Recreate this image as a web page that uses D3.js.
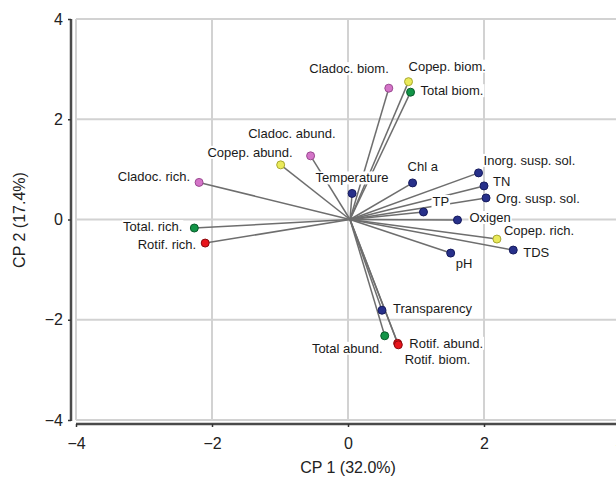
<!DOCTYPE html>
<html><head><meta charset="utf-8">
<script src="https://cdn.jsdelivr.net/npm/d3@7"></script>
<style>
html,body{margin:0;padding:0;background:#fff;}
svg{display:block;font-family:"Liberation Sans",Arial,sans-serif;}
</style></head>
<body>
<svg id="c" width="616" height="485"></svg>
<script>
// ---- data ----
const names = ["Cladoc. biom.","Copep. biom.","Total biom.","Cladoc. abund.","Copep. abund.","Cladoc. rich.","Total. rich.","Rotif. rich.","Temperature","Chl a","Inorg. susp. sol.","TN","Org. susp. sol.","TP","Oxigen","Copep. rich.","TDS","pH","Transparency","Total abund.","Rotif. biom.","Rotif. abund."];
const cp1 = [0.60,0.89,0.92,-0.55,-0.99,-2.19,-2.26,-2.10,0.06,0.95,1.92,2.00,2.03,1.11,1.61,2.19,2.43,1.51,0.50,0.54,0.73,0.74];
const cp2 = [2.62,2.75,2.54,1.27,1.09,0.74,-0.17,-0.47,0.52,0.73,0.93,0.67,0.43,0.15,-0.01,-0.39,-0.61,-0.67,-1.81,-2.32,-2.47,-2.50];
const groups = ["Cladoc","Copep","Total","Cladoc","Copep","Cladoc","Total","Rotif","Env","Env","Env","Env","Env","Env","Env","Copep","Env","Env","Env","Total","Rotif","Rotif"];
const ticks = [-4,-2,0,2,4];
const xTitle = "CP 1 (32.0%)";
const yTitle = "CP 2 (17.4%)";

// ---- styles / layout ----
const fill = {Env:"#27308a",Cladoc:"#d474c8",Copep:"#eaea5a",Total:"#129447",Rotif:"#e8141c"};
const stroke = {Env:"#161b5e",Cladoc:"#9a4a90",Copep:"#a8a830",Total:"#0a5c2b",Rotif:"#8a0a0e"};
// label placement: [dx, dy, anchor]
const labelPos = [[0,-15,"end"],[0,-11,"start"],[10,3,"start"],[25,-18,"end"],[12,-8,"end"],[-9,-1,"end"],[-12,3,"end"],[-9,6,"end"],[0,-11,"middle"],[-5,-12,"start"],[5,-8,"start"],[9,0,"start"],[10,5,"start"],[9,-6,"start"],[12,2,"start"],[7,-4,"start"],[10,7,"start"],[5,15,"start"],[11,3,"start"],[-2,17,"end"],[7,21,"start"],[11,3,"start"]];

const svg = d3.select("#c");
const x = d3.scaleLinear().domain([-4,4]).range([76,620]);
const y = d3.scaleLinear().domain([-4,4]).range([420,19]);

// gridlines
const grid = svg.append("g");
grid.selectAll(".gx").data(ticks).join("line")
  .attr("x1",d=>x(d)).attr("x2",d=>x(d)).attr("y1",y(4)).attr("y2",y(-4))
  .attr("stroke","#d2d2d2").attr("stroke-width",2);
grid.selectAll(".gy").data(ticks).join("line")
  .attr("x1",x(-4)).attr("x2",x(4)).attr("y1",d=>y(d)).attr("y2",d=>y(d))
  .attr("stroke","#d2d2d2").attr("stroke-width",2);

// axes
const fmt = d => d < 0 ? "\u2212" + Math.abs(d) : String(d);
const yAxis = svg.append("g").attr("transform","translate(71,0)")
  .call(d3.axisLeft(y).tickValues(ticks).tickFormat(fmt).tickSize(3).tickPadding(5));
const xAxis = svg.append("g").attr("transform","translate(0,424)")
  .call(d3.axisBottom(x).tickValues(ticks).tickFormat(fmt).tickSize(3).tickPadding(11));
[yAxis,xAxis].forEach(a=>{
  a.select(".domain").attr("stroke","#4a4a4a").attr("stroke-width",2.5);
  a.selectAll(".tick line").attr("stroke","#333").attr("stroke-width",1.5);
  a.selectAll(".tick text").attr("font-size",16).attr("fill","#222")
    .attr("font-family","'Liberation Sans',Arial,sans-serif");
});
yAxis.select(".domain").attr("d",`M0,${y(4)}V${y(-4)+1}`);
xAxis.select(".domain").attr("d",`M${x(-4)},0H616`);

// titles
svg.append("text").attr("x",348).attr("y",473).attr("text-anchor","middle")
  .attr("font-size",16).attr("fill","#222").text(xTitle);
svg.append("text").attr("transform","translate(25,220) rotate(-90)").attr("text-anchor","middle")
  .attr("font-size",16).attr("fill","#222").text(yTitle);

const idx = d3.range(names.length);
// vectors
svg.append("g").selectAll("line").data(idx).join("line")
  .attr("x1",x(0)+2).attr("y1",y(0))
  .attr("x2",i=>x(cp1[i])).attr("y2",i=>y(cp2[i]))
  .attr("stroke","#6e6e6e").attr("stroke-width",1.5);

// labels with white background
const lg = svg.append("g");
idx.forEach(i=>{
  const g = lg.append("g");
  const t = g.append("text")
    .attr("x",x(cp1[i])+labelPos[i][0]).attr("y",y(cp2[i])+labelPos[i][1])
    .attr("text-anchor",labelPos[i][2]).attr("font-size",13).attr("fill","#1a1a1a")
    .text(names[i]);
  const b = t.node().getBBox();
  g.insert("rect","text").attr("x",b.x-1).attr("y",b.y+1).attr("width",b.width+2).attr("height",b.height-2)
    .attr("fill","#fff");
});

// points
svg.append("g").selectAll("circle").data(idx).join("circle")
  .attr("cx",i=>x(cp1[i])).attr("cy",i=>y(cp2[i])).attr("r",4)
  .attr("fill",i=>fill[groups[i]]).attr("stroke",i=>stroke[groups[i]]).attr("stroke-width",1);
</script>
</body></html>
